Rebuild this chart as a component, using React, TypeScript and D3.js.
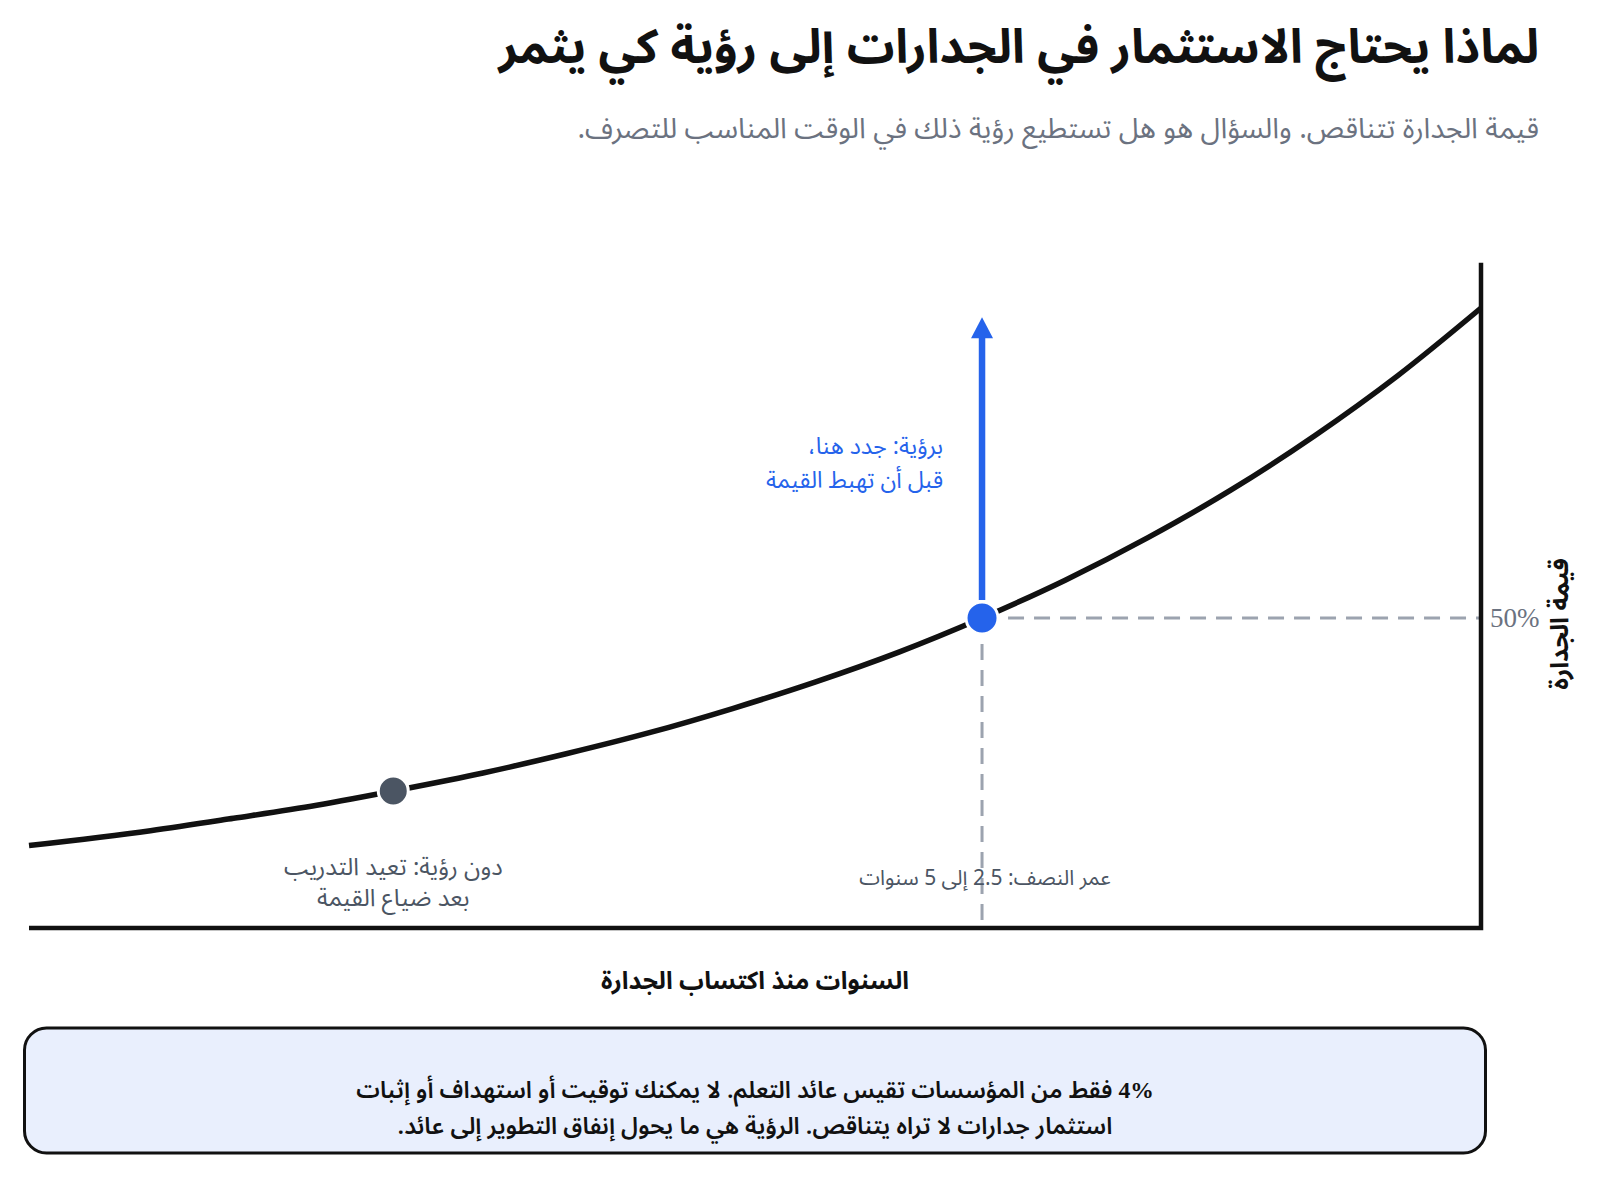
import React from "react";
import * as d3 from "d3";

// ---- data ----
const years = [0, 0.5, 1, 1.5, 2, 2.5, 3, 3.5, 4, 4.5, 5, 5.5, 6, 6.5, 7, 7.5, 8, 8.73];
const values = [100, 89.1, 79.4, 70.7, 63.0, 56.1, 50.0, 44.5, 39.7, 35.4, 31.5, 28.1, 25.0, 22.3, 19.8, 17.7, 15.7, 13.3];
const halfLife = { year: 3, value: 50 };
const lateRetrain = { year: 6.54, value: 22.1 };
const arrowTopValue = 98.5;
const yTickLabels = ["50%"];

const title = "لماذا يحتاج الاستثمار في الجدارات إلى رؤية كي يثمر";
const subtitle = "قيمة الجدارة تتناقص. والسؤال هو هل تستطيع رؤية ذلك في الوقت المناسب للتصرف.";
const blueLabel = ["برؤية: جدد هنا،", "قبل أن تهبط القيمة"];
const grayLabel = ["دون رؤية: تعيد التدريب", "بعد ضياع القيمة"];
const halfLifeLabel = "عمر النصف: 2.5 إلى 5 سنوات";
const xAxisLabel = "السنوات منذ اكتساب الجدارة";
const yAxisLabel = "قيمة الجدارة";
const boxStat = "4%";
const boxLines = [
  " فقط من المؤسسات تقيس عائد التعلم. لا يمكنك توقيت أو استهداف أو إثبات",
  "استثمار جدارات لا تراه يتناقص. الرؤية هي ما يحول إنفاق التطوير إلى عائد.",
];

const AR = "'Noto Sans Arabic', 'Noto Sans', sans-serif";
const SERIF = "'Liberation Serif', serif";
const BLUE = "#2563eb";
const GRAY_DOT = "#4b5563";
const DASH = "#9ca3af";
const SUB = "#6b7280";

export default function App() {
  const W = 1600, H = 1178;
  const x = d3.scaleLinear().domain([0, 8.73]).range([1481, 29]);
  const y = d3.scaleLinear().domain([0, 100]).range([928, 308]);
  const yTopValue = 107.3;

  const pts = years.map((t, i) => [x(t), y(values[i])] as [number, number]);
  const line = d3.line().curve(d3.curveMonotoneX)(pts) || "";

  const hx = x(halfLife.year), hy = y(halfLife.value);
  const gx = x(lateRetrain.year), gy = y(lateRetrain.value);
  const tipY = y(arrowTopValue);
  const headLen = 21, headHalf = 11;

  return (
    <svg width={W} height={H} style={{ position: "absolute", left: 0, top: 0, background: "#fff" }}>
      {/* title */}
      <text x={1539} y={63} direction="rtl" textAnchor="start" fontFamily={AR} fontWeight={700} fontSize={47.5} fill="#111">{title}</text>
      <text x={1539} y={138} direction="rtl" textAnchor="start" fontFamily={AR} fontSize={28.5} fill={SUB}>{subtitle}</text>

      {/* dashed guides */}
      <line x1={hx} x2={x(0)} y1={hy} y2={hy} stroke={DASH} strokeWidth={3} strokeDasharray="16 10" />
      <line x1={hx} x2={hx} y1={hy} y2={y(0)} stroke={DASH} strokeWidth={3} strokeDasharray="16 10" />

      {/* axes */}
      <path d={`M${x(0)},${y(yTopValue)} L${x(0)},${y(0)} L${x(8.73)},${y(0)}`} fill="none" stroke="#111" strokeWidth={4.5} />

      {/* curve */}
      <path d={line} fill="none" stroke="#111" strokeWidth={5.5} />

      {/* arrow */}
      <line x1={hx} x2={hx} y1={hy - 18} y2={tipY + headLen - 2} stroke={BLUE} strokeWidth={6.5} />
      <path d={`M${hx},${tipY} L${hx + headHalf},${tipY + headLen} L${hx - headHalf},${tipY + headLen} Z`} fill={BLUE} />

      {/* dots */}
      <circle cx={gx} cy={gy} r={15} fill={GRAY_DOT} stroke="#fff" strokeWidth={3} />
      <circle cx={hx} cy={hy} r={16} fill={BLUE} stroke="#fff" strokeWidth={3} />

      {/* y tick */}
      {yTickLabels.map((t) => (
        <text key={t} x={x(0) + 9} y={hy + 9} fontFamily={SERIF} fontSize={27} fill={SUB}>{t}</text>
      ))}

      {/* labels */}
      {blueLabel.map((s, i) => (
        <text key={s} x={hx - 39} y={454 + i * 34} direction="rtl" textAnchor="start" fontFamily={AR} fontSize={23.2} fill={BLUE}>{s}</text>
      ))}
      {grayLabel.map((s, i) => (
        <text key={s} x={gx} y={875 + i * 31} direction="rtl" textAnchor="middle" fontFamily={AR} fontSize={24} fill={GRAY_DOT}>{s}</text>
      ))}
      <text x={hx + 3} y={885} direction="rtl" textAnchor="middle" fontFamily={AR} fontSize={21} fill={GRAY_DOT}>{halfLifeLabel}</text>

      <text x={755} y={989} direction="rtl" textAnchor="middle" fontFamily={AR} fontWeight={700} fontSize={24.6} fill="#111">{xAxisLabel}</text>
      <text transform={`translate(1561, 624) rotate(-90)`} direction="rtl" textAnchor="middle" dominantBaseline="middle" fontFamily={AR} fontWeight={700} fontSize={25} fill="#111">{yAxisLabel}</text>

      {/* bottom box */}
      <rect x={24.5} y={1028} width={1461} height={125} rx={22} fill="#e9effd" stroke="#111" strokeWidth={3} />
      <text x={755} y={1098} direction="rtl" textAnchor="middle" fontFamily={AR} fontWeight={600} fontSize={23.6} fill="#111">
        <tspan fontFamily={SERIF} fontWeight={700}>{boxStat}</tspan>
        <tspan>{boxLines[0]}</tspan>
      </text>
      <text x={755} y={1134} direction="rtl" textAnchor="middle" fontFamily={AR} fontWeight={600} fontSize={23.6} fill="#111">{boxLines[1]}</text>
    </svg>
  );
}
